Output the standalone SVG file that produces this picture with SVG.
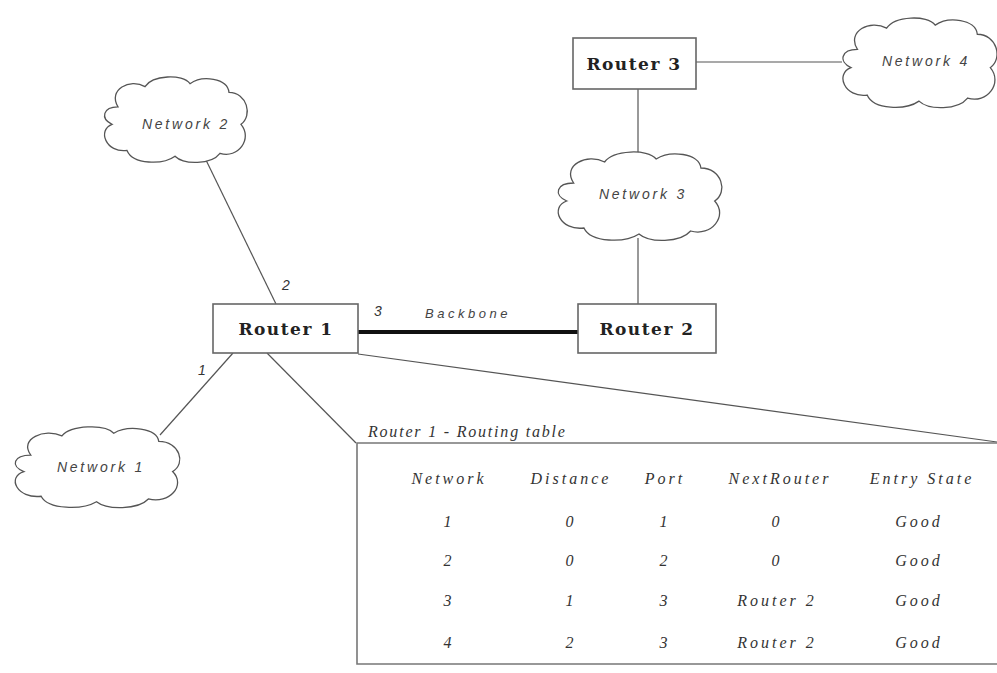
<svg xmlns="http://www.w3.org/2000/svg" xmlns:xlink="http://www.w3.org/1999/xlink" width="997" height="673" viewBox="0 0 997 673">
<style>
.link{stroke:#555;stroke-width:1.2;fill:none}
.bb{stroke:#111;stroke-width:4;fill:none}
.cloud{fill:#fff;stroke:#555;stroke-width:1.3}
.box{fill:#fff;stroke:#666;stroke-width:1.6}
.rt{font-family:"DejaVu Serif",serif;font-weight:bold;font-size:17px;letter-spacing:1.5px;fill:#222;text-anchor:middle}
.ct{font-family:"Liberation Sans",Arial,sans-serif;font-style:italic;font-size:14px;letter-spacing:2.8px;fill:#444;text-anchor:middle}
.pl{font-family:"Liberation Sans",Arial,sans-serif;font-style:italic;font-size:14px;fill:#333;text-anchor:middle}
.tt{font-family:"Liberation Serif","Times New Roman",serif;font-style:italic;font-size:16px;letter-spacing:1.8px;fill:#333}
.tc{font-family:"Liberation Serif","Times New Roman",serif;font-style:italic;font-size:16px;letter-spacing:3px;fill:#333;text-anchor:middle}
</style>
<defs>
<path id="cl" d="M12,22 C5,10 20,2 30,8 C35,0 55,-1 60,6 C68,0 85,2 86,12 C98,12 102,28 94,34 C102,44 92,58 80,54 C74,62 56,62 50,56 C42,62 22,62 18,52 C4,54 -2,38 8,34 C0,30 2,22 12,22 Z" vector-effect="non-scaling-stroke"/>
</defs>
<rect width="997" height="673" fill="#fff"/>
<g id="connectors">
<line class="link" x1="205" y1="158" x2="276" y2="304"/>
<line class="link" x1="160" y1="435" x2="233" y2="353"/>
<line class="link" x1="267" y1="353" x2="356" y2="443"/>
<line class="link" x1="358" y1="354" x2="997" y2="442"/>
<line class="link" x1="638" y1="89" x2="638" y2="155"/>
<line class="link" x1="638" y1="238" x2="638" y2="304"/>
<line class="link" x1="696" y1="62" x2="842" y2="62"/>
<line class="bb" x1="358" y1="332" x2="578" y2="332"/>
<text class="pl" x="286" y="290">2</text>
<text class="pl" x="378" y="316">3</text>
<text class="pl" x="202" y="375">1</text>
<text class="ct" x="468" y="318" style="font-size:13px;letter-spacing:3.5px">Backbone</text>
</g>
<g id="network2">
<use xlink:href="#cl" class="cloud" transform="translate(100,75) scale(1.5,1.45)"/>
<text class="ct" x="186" y="129">Network 2</text>
</g>
<g id="network3">
<use xlink:href="#cl" class="cloud" transform="translate(553,150) scale(1.72,1.5)"/>
<text class="ct" x="643" y="199">Network 3</text>
</g>
<g id="network1">
<use xlink:href="#cl" class="cloud" transform="translate(10,425) scale(1.73,1.37)"/>
<text class="ct" x="101" y="472">Network 1</text>
</g>
<g id="network4">
<use xlink:href="#cl" class="cloud" transform="translate(838,16) scale(1.62,1.52)"/>
<text class="ct" x="926" y="66">Network 4</text>
</g>
<g id="router1">
<rect class="box" x="213" y="304" width="145" height="49"/>
<text class="rt" x="286" y="335">Router 1</text>
</g>
<g id="router2">
<rect class="box" x="578" y="304" width="138" height="49"/>
<text class="rt" x="647" y="335">Router 2</text>
</g>
<g id="router3">
<rect class="box" x="573" y="38" width="123" height="51"/>
<text class="rt" x="634" y="70">Router 3</text>
</g>
<g id="routing-table">
<text class="tt" x="368" y="437">Router 1 - Routing table</text>
<path d="M997,443 H357 V664 H997" fill="none" stroke="#777" stroke-width="1.6"/>
<text class="tc" x="449" y="484">Network</text>
<text class="tc" x="571" y="484">Distance</text>
<text class="tc" x="665" y="484">Port</text>
<text class="tc" x="780" y="484">NextRouter</text>
<text class="tc" x="922" y="484">Entry State</text>
<text class="tc" x="449" y="527">1</text><text class="tc" x="571" y="527">0</text><text class="tc" x="665" y="527">1</text><text class="tc" x="777" y="527">0</text><text class="tc" x="919" y="527">Good</text>
<text class="tc" x="449" y="566">2</text><text class="tc" x="571" y="566">0</text><text class="tc" x="665" y="566">2</text><text class="tc" x="777" y="566">0</text><text class="tc" x="919" y="566">Good</text>
<text class="tc" x="449" y="606">3</text><text class="tc" x="571" y="606">1</text><text class="tc" x="665" y="606">3</text><text class="tc" x="777" y="606">Router 2</text><text class="tc" x="919" y="606">Good</text>
<text class="tc" x="449" y="648">4</text><text class="tc" x="571" y="648">2</text><text class="tc" x="665" y="648">3</text><text class="tc" x="777" y="648">Router 2</text><text class="tc" x="919" y="648">Good</text>
</g>
</svg>
